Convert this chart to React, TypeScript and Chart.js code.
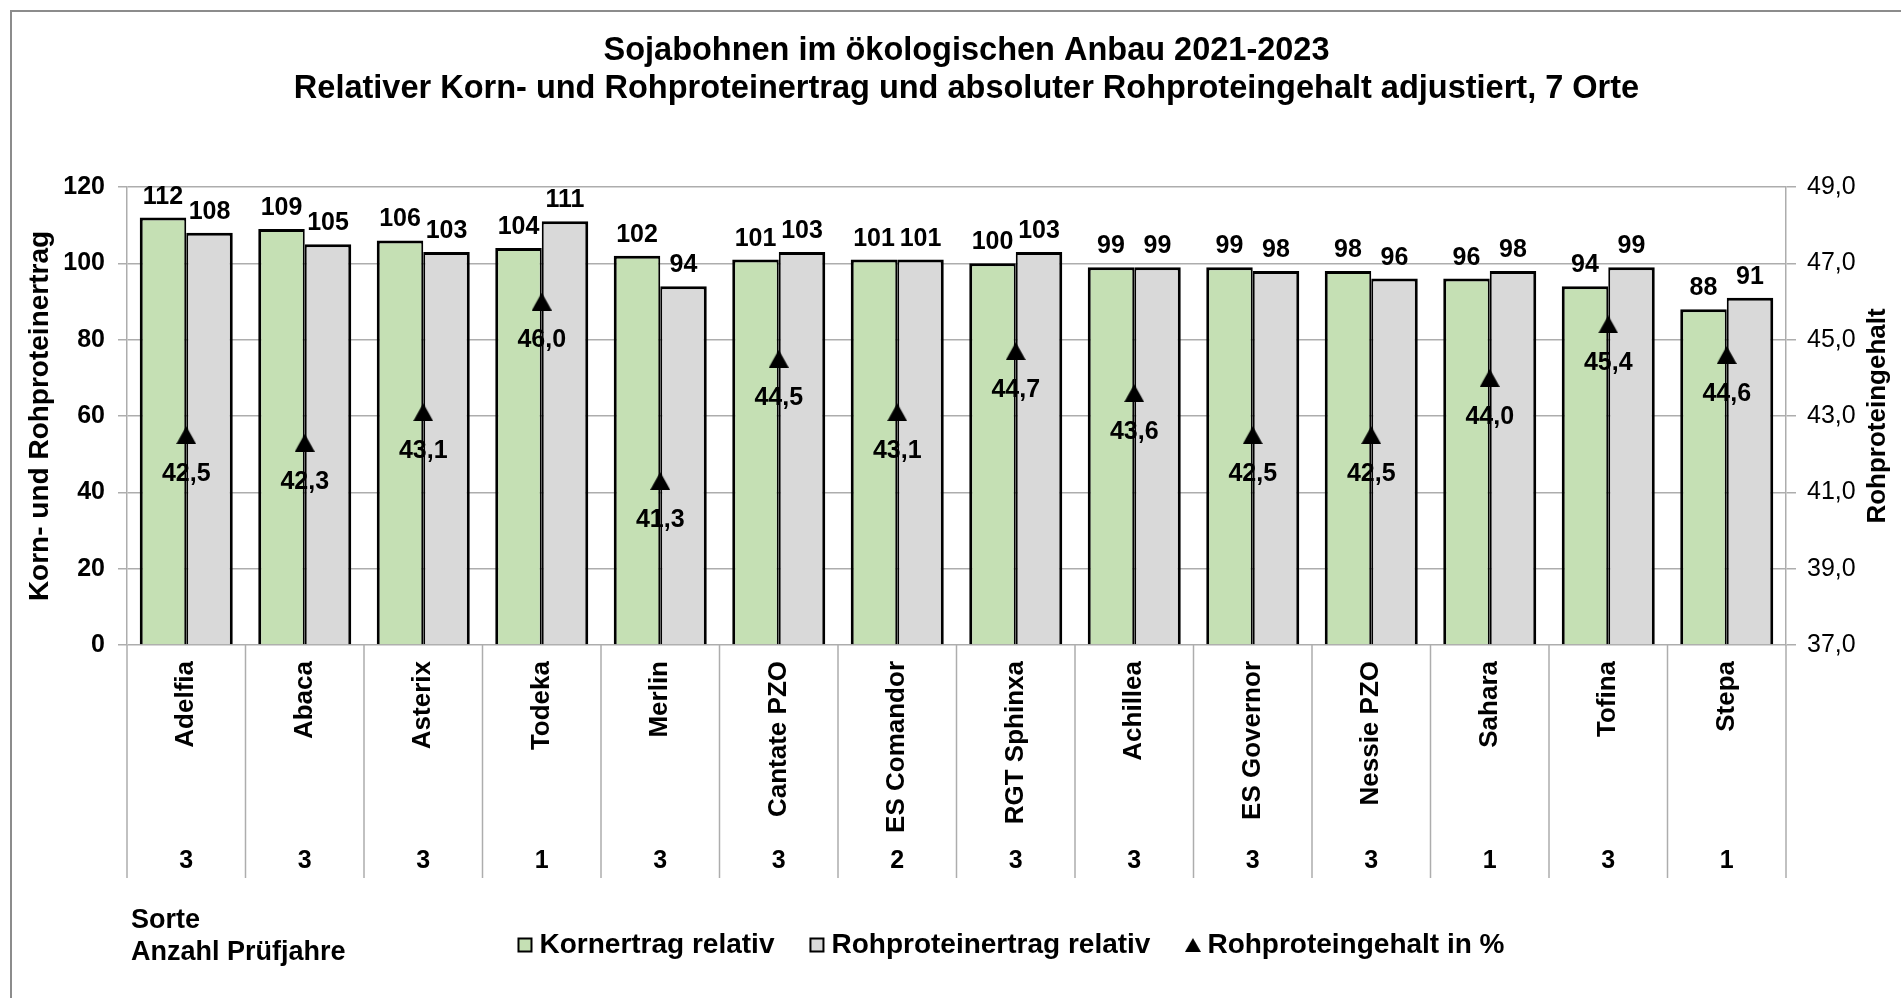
import { useEffect, useRef } from 'react';
import { Chart, registerables } from 'chart.js';

Chart.register(...registerables);

const FONT = "'Liberation Sans', Arial, Helvetica, sans-serif";

// ---------- data ----------
const titleLines = [
  'Sojabohnen im ökologischen Anbau 2021-2023',
  'Relativer Korn- und Rohproteinertrag und absoluter Rohproteingehalt adjustiert, 7 Orte',
];
const categories = [
  'Adelfia', 'Abaca', 'Asterix', 'Todeka', 'Merlin', 'Cantate PZO', 'ES Comandor',
  'RGT Sphinxa', 'Achillea', 'ES Governor', 'Nessie PZO', 'Sahara', 'Tofina', 'Stepa',
];
const pruefjahre = ['3', '3', '3', '1', '3', '3', '2', '3', '3', '3', '3', '1', '3', '1'];
const kornertragRelativ = [112, 109, 106, 104, 102, 101, 101, 100, 99, 99, 98, 96, 94, 88];
const rohproteinertragRelativ = [108, 105, 103, 111, 94, 103, 101, 103, 99, 98, 96, 98, 99, 91];
const rohproteingehalt = [42.5, 42.3, 43.1, 46.0, 41.3, 44.5, 43.1, 44.7, 43.6, 42.5, 42.5, 44.0, 45.4, 44.6];
const leftTicks = [0, 20, 40, 60, 80, 100, 120];
const rightTicks = [37, 39, 41, 43, 45, 47, 49];
const seriesNames = ['Kornertrag relativ', 'Rohproteinertrag relativ', 'Rohproteingehalt in %'];
const leftAxisTitle = 'Korn- und Rohproteinertrag';
const rightAxisTitle = 'Rohproteingehalt';
const rowCaption = ['Sorte', 'Anzahl Prüfjahre'];

// ---------- styles / layout ----------
const GREEN = '#C5E0B4';
const GRAY = '#D9D9D9';
const GRID = '#ADADAD';
const CANVAS_W = 1889;
const CANVAS_H = 986;
const L = {
  axisW: 115,
  xNamesH: 195,
  xYearsH: 49,
  padBottom: 29,
  separatorLen: 38,
  legendShift: 58,
  titleShift: 10,
  barLabelGap: 14,
  pointLabelOffset: 39,
  rightTitleOffset: 92,
  captionX: 119,
  captionY: 909,
  captionLine: 32,
};

const fmt1 = (v: number) => v.toFixed(1).replace('.', ',');

function makeTriangle(w: number, h: number): HTMLCanvasElement {
  const c = document.createElement('canvas');
  c.width = w;
  c.height = h;
  const g = c.getContext('2d')!;
  g.fillStyle = '#000';
  g.beginPath();
  g.moveTo(w / 2, 0);
  g.lineTo(w, h);
  g.lineTo(0, h);
  g.closePath();
  g.fill();
  return c;
}

const decorPlugin = {
  id: 'decor',
  afterLayout(chart: any) {
    if (chart.legend) {
      chart.legend.left += L.legendShift;
      chart.legend.right += L.legendShift;
    }
    if (chart.titleBlock) {
      chart.titleBlock.left += L.titleShift;
      chart.titleBlock.right += L.titleShift;
    }
  },
  afterDraw(chart: any) {
    const { ctx, chartArea } = chart;
    const xs = chart.scales.x;
    const x2 = chart.scales.x2;
    const y1 = chart.scales.y1;
    ctx.save();
    // category separators (multi-level axis)
    ctx.strokeStyle = GRID;
    ctx.lineWidth = 1.5;
    const n = categories.length;
    const step = xs.width / n;
    for (let i = 0; i <= n; i++) {
      const px = xs.left + i * step;
      ctx.beginPath();
      ctx.moveTo(px, chartArea.bottom);
      ctx.lineTo(px, x2.top + L.separatorLen);
      ctx.stroke();
    }
    // bar value labels
    ctx.fillStyle = '#000';
    ctx.font = `bold 25px ${FONT}`;
    ctx.textAlign = 'center';
    ctx.textBaseline = 'alphabetic';
    [0, 1].forEach((di) => {
      const meta = chart.getDatasetMeta(di);
      const data = chart.data.datasets[di].data;
      meta.data.forEach((el: any, i: number) => {
        ctx.fillText(String(data[i]), el.x, el.y - L.barLabelGap);
      });
    });
    // point labels
    const lm = chart.getDatasetMeta(2);
    ctx.textBaseline = 'middle';
    lm.data.forEach((el: any, i: number) => {
      ctx.fillText(fmt1(rohproteingehalt[i]), el.x, el.y + L.pointLabelOffset);
    });
    // right axis title (reads bottom to top)
    ctx.save();
    ctx.translate(y1.left + L.rightTitleOffset, (chartArea.top + chartArea.bottom) / 2);
    ctx.rotate(-Math.PI / 2);
    ctx.font = `bold 26px ${FONT}`;
    ctx.fillText(rightAxisTitle, 0, 0);
    ctx.restore();
    // row captions
    ctx.textAlign = 'left';
    ctx.textBaseline = 'middle';
    ctx.font = `bold 27px ${FONT}`;
    rowCaption.forEach((t, i) => ctx.fillText(t, L.captionX, L.captionY + i * L.captionLine));
    ctx.restore();
  },
};

export default function App() {
  const ref = useRef<HTMLCanvasElement>(null);

  useEffect(() => {
    if (!ref.current) return;
    const tickFont = { family: FONT, size: 25, weight: 'bold' as const };
    const tri = makeTriangle(20, 18);
    const legendTri = makeTriangle(16, 14);
    const chart = new Chart(ref.current, {
      type: 'bar',
      data: {
        labels: categories,
        datasets: [
          {
            type: 'bar',
            label: seriesNames[0],
            data: kornertragRelativ,
            backgroundColor: GREEN,
            borderColor: '#000',
            borderWidth: { top: 3, left: 3, right: 2, bottom: 0 },
            categoryPercentage: 0.785,
            barPercentage: 1,
            xAxisID: 'x',
            yAxisID: 'y',
            order: 1,
          },
          {
            type: 'bar',
            label: seriesNames[1],
            data: rohproteinertragRelativ,
            backgroundColor: GRAY,
            borderColor: '#000',
            borderWidth: { top: 3, left: 2, right: 3, bottom: 0 },
            categoryPercentage: 0.785,
            barPercentage: 1,
            xAxisID: 'x',
            yAxisID: 'y',
            order: 1,
          },
          {
            type: 'line',
            label: seriesNames[2],
            data: rohproteingehalt,
            showLine: false,
            pointStyle: tri,
            pointRadius: 10,
            pointHoverRadius: 10,
            pointBackgroundColor: '#000',
            pointBorderColor: '#000',
            pointBorderWidth: 0,
            xAxisID: 'x',
            yAxisID: 'y1',
            order: 0,
          },
        ] as any,
      },
      options: {
        responsive: false,
        animation: false,
        events: [],
        layout: { padding: { left: 0, right: 0, top: 0, bottom: L.padBottom } },
        scales: {
          x: {
            type: 'category',
            position: 'bottom',
            weight: 0,
            offset: true,
            grid: { display: false, drawTicks: false, offset: true },
            border: { display: false },
            ticks: {
              autoSkip: false,
              minRotation: 90,
              maxRotation: 90,
              padding: 16,
              color: '#000',
              font: { family: FONT, size: 26, weight: 'bold' },
            },
            afterFit: (s: any) => { s.height = L.xNamesH; },
          },
          x2: {
            type: 'category',
            position: 'bottom',
            weight: 1,
            offset: true,
            labels: pruefjahre,
            grid: { display: false, drawTicks: false },
            border: { display: false },
            ticks: { autoSkip: false, maxRotation: 0, padding: 6, color: '#000', font: tickFont },
            afterFit: (s: any) => { s.height = L.xYearsH; },
          },
          y: {
            position: 'left',
            min: 0,
            max: 120,
            afterBuildTicks: (s: any) => { s.ticks = leftTicks.map((v) => ({ value: v })); },
            grid: { color: GRID, lineWidth: 1.5, drawTicks: true, tickLength: 9 },
            border: { display: true, color: GRID, width: 1.5 },
            ticks: { padding: 13, color: '#000', font: tickFont },
            title: {
              display: true,
              text: leftAxisTitle,
              color: '#000',
              font: { family: FONT, size: 28, weight: 'bold' },
              padding: { top: 11, bottom: 0 },
            },
            afterFit: (s: any) => { s.width = L.axisW; },
          },
          y1: {
            position: 'right',
            min: 37,
            max: 49,
            afterBuildTicks: (s: any) => { s.ticks = rightTicks.map((v) => ({ value: v })); },
            grid: { drawOnChartArea: false, color: GRID, lineWidth: 1.5, drawTicks: true, tickLength: 10 },
            border: { display: true, color: GRID, width: 1.5 },
            ticks: {
              padding: 11,
              color: '#000',
              font: { family: FONT, size: 25, weight: 'normal' },
              callback: (v: any) => fmt1(Number(v)),
            },
            afterFit: (s: any) => { s.width = L.axisW; },
          },
        },
        plugins: {
          tooltip: { enabled: false },
          title: {
            display: true,
            text: titleLines,
            color: '#000',
            font: { family: FONT, size: 32.5, weight: 'bold', lineHeight: 38 / 32.5 },
            padding: { top: 20.5, bottom: 78.5 },
          },
          legend: {
            display: true,
            position: 'bottom',
            align: 'center',
            labels: {
              usePointStyle: true,
              boxWidth: 1,
              boxHeight: 13,
              padding: 42,
              color: '#000',
              font: { family: FONT, size: 28, weight: 'bold' },
              generateLabels: () => [
                { text: seriesNames[0], fillStyle: GREEN, strokeStyle: '#000', lineWidth: 2, pointStyle: 'rect', hidden: false, datasetIndex: 0, fontColor: '#000' },
                { text: seriesNames[1], fillStyle: GRAY, strokeStyle: '#000', lineWidth: 2, pointStyle: 'rect', hidden: false, datasetIndex: 1, fontColor: '#000' },
                { text: seriesNames[2], fillStyle: '#000', strokeStyle: '#000', lineWidth: 0, pointStyle: legendTri, hidden: false, datasetIndex: 2, fontColor: '#000' },
              ] as any,
            },
          },
        },
      } as any,
      plugins: [decorPlugin as any],
    });
    return () => chart.destroy();
  }, []);

  return (
    <div
      style={{
        position: 'absolute',
        left: 10,
        top: 10,
        width: CANVAS_W + 2,
        height: CANVAS_H + 2,
        boxSizing: 'border-box',
        borderLeft: '2px solid #8C8C8C',
        borderTop: '2px solid #8C8C8C',
        background: '#fff',
        overflow: 'hidden',
      }}
    >
      <canvas ref={ref} width={CANVAS_W} height={CANVAS_H} style={{ display: 'block', width: CANVAS_W, height: CANVAS_H }} />
    </div>
  );
}
